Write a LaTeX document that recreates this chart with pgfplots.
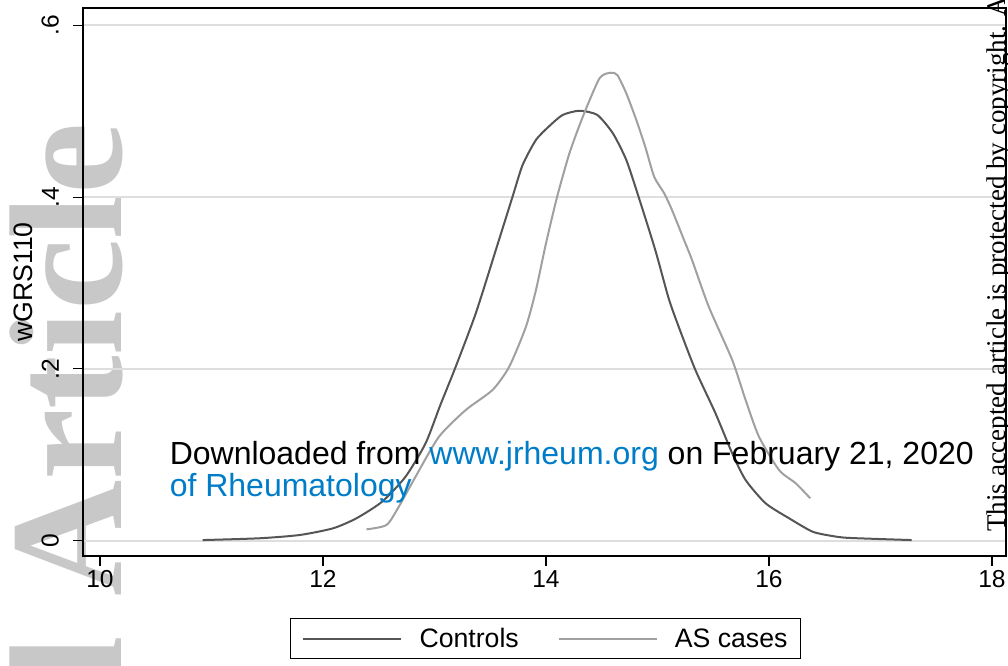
\documentclass[border=0pt]{standalone}
\usepackage{pgfplots}
\pgfplotsset{compat=1.18}
\usepackage{fontspec}
\setmainfont{Liberation Sans}
\newfontfamily\serifwm{Liberation Serif}
\definecolor{ctrl}{RGB}{85,85,85}
\definecolor{ascase}{RGB}{160,160,160}
\definecolor{gridc}{RGB}{222,222,222}
\definecolor{wmark}{RGB}{200,200,200}
\definecolor{jblue}{RGB}{0,125,200}

\pgfplotstableread{
x y
10.92 0.0005
11.43 0.0026
11.79 0.0064
12.09 0.0142
12.30 0.0259
12.53 0.0452
12.74 0.0743
12.92 0.1132
13.05 0.1570
13.19 0.2024
13.37 0.2646
13.55 0.3384
13.70 0.4005
13.79 0.4374
13.91 0.4666
14.03 0.4828
14.15 0.4957
14.30 0.5006
14.46 0.4957
14.60 0.4743
14.72 0.4433
14.83 0.4005
14.98 0.3384
15.10 0.2821
15.19 0.2490
15.34 0.1986
15.52 0.1482
15.67 0.1016
15.79 0.0705
15.97 0.0433
16.18 0.0259
16.39 0.0103
16.57 0.0052
16.72 0.0030
17.28 0.0005
}\controls

\pgfplotstableread{
x y
12.39 0.0130
12.57 0.0181
12.68 0.0394
12.83 0.0743
13.04 0.1209
13.28 0.1520
13.52 0.1753
13.67 0.2024
13.82 0.2490
13.91 0.2918
14.00 0.3462
14.10 0.4005
14.21 0.4510
14.33 0.4936
14.48 0.5384
14.58 0.5449
14.64 0.5422
14.72 0.5209
14.81 0.4898
14.89 0.4587
14.97 0.4238
15.06 0.4044
15.13 0.3850
15.25 0.3462
15.31 0.3267
15.46 0.2723
15.67 0.2103
15.79 0.1637
15.91 0.1209
16.09 0.0821
16.24 0.0666
16.37 0.0492
}\ascases

\begin{document}
\begin{tikzpicture}[x=0.75pt,y=0.75pt]
\useasboundingbox (0,0) rectangle (1008,665);
\clip (0,0) rectangle (1008,665);
\fill[white] (0,0) rectangle (1008,665);
% watermark
\node[rotate=90, anchor=base west, inner sep=0, text=wmark,
      font=\serifwm\bfseries\fontsize{120.75}{121}\selectfont] at (121,68) {Article};
\node[rotate=90, anchor=base east, inner sep=0, text=wmark,
      font=\serifwm\bfseries\fontsize{120.75}{121}\selectfont] at (121,28) {Accepted};

\begin{axis}[
  at={(62.25pt,81.75pt)}, anchor=south west,
  scale only axis, width=692.25pt, height=411pt,
  xmin=9.8475, xmax=18.1256, ymin=-0.01805, ymax=0.6203,
  axis line style={line width=1.1pt, black},
  tick style={line width=0.9pt, black},
  major tick length=7.5pt, tick align=outside, tick pos=left,
  xtick={10,12,14,16,18}, xticklabels={10,12,14,16,18},
  ytick={0,0.2,0.4,0.6}, yticklabels={0,.2,.4,.6},
  ymajorgrids, grid style={gridc, line width=1.5pt},
  xticklabel style={font=\fontsize{18.4}{20}\selectfont},
  yticklabel style={rotate=90, anchor=south, font=\fontsize{18.4}{20}\selectfont},
  yticklabel shift=7pt,
  ylabel={wGRS110},
  ylabel style={font=\fontsize{20}{22}\selectfont, at={(axis description cs:-0.0542,0.5)}, anchor=base, inner sep=0pt},
  legend columns=2,
  legend cell align=left,
  legend style={at={(axis description cs:0.5011,-0.1131)}, anchor=north,
     draw=black, line width=1.1pt, inner xsep=8.8pt, inner ysep=6pt,
     font=\fontsize{20}{22}\selectfont,
     nodes={inner sep=1pt},
     /tikz/every odd column/.append style={column sep=12pt},
     /tikz/every even column/.append style={column sep=28pt}},
  legend image code/.code={\draw[#1] (0pt,0pt) -- (73.5pt,0pt);},
]
\addplot[ctrl, line width=1.5pt, smooth, tension=0.4] table {\controls};
\addlegendentry{Controls}
\addplot[ascase, line width=1.5pt, smooth, tension=0.4] table {\ascases};
\addlegendentry{AS cases}
\end{axis}

\node[anchor=base west, inner sep=0, font=\fontsize{24}{25}\selectfont] at (169.5,200)
  {Downloaded from \textcolor{jblue}{www.jrheum.org} on February 21, 2020};
\node[anchor=base west, inner sep=0, text=jblue, font=\fontsize{24}{25}\selectfont] at (169.5,168.3)
  {of Rheumatology};
\node[rotate=90, anchor=base west, inner sep=0, font=\serifwm\fontsize{20.25}{21}\selectfont] at (1005,133)
  {This accepted article is protected by copyright. All rights reserved.};
\end{tikzpicture}
\end{document}
